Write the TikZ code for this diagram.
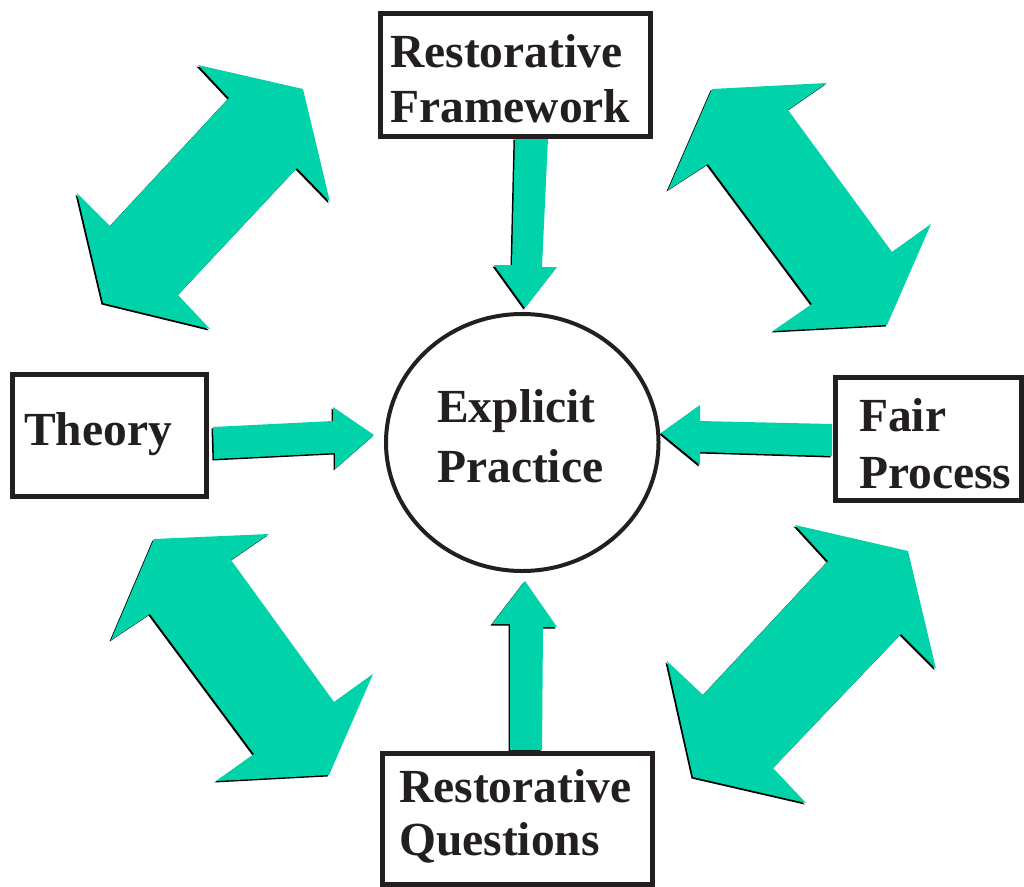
\documentclass[tikz,border=0pt]{standalone}
\usepackage{fontspec}
\setmainfont{Liberation Serif}
\usetikzlibrary{shapes.geometric}
\definecolor{arrowfill}{RGB}{0,210,170}
\definecolor{txt}{RGB}{35,31,32}
\newcommand\blockarr[1]{%
  \fill[black,shift={(-1.5,1.5)}] #1 -- cycle;
  \fill[arrowfill] #1 -- cycle;}
\begin{document}
\begin{tikzpicture}[x=1pt,y=-1pt,
  box/.style={draw=txt,line width=5pt,inner sep=0pt,rectangle},
  hub/.style={draw=txt,line width=4pt,inner sep=0pt,ellipse},
  lbl/.style={font=\fontsize{47.5}{55}\selectfont\bfseries,text=txt,inner sep=0pt,anchor=base west}]
\useasboundingbox (0,0) rectangle (1024,886);

% diagonal double arrows
\blockarr{(198,65) -- (303,89) -- (330,202) -- (297,168) -- (178,295) -- (210,329) -- (103,303) -- (77,193) -- (110,226) -- (229,98)}
\blockarr{(712,89) -- (827,83) -- (788,110) -- (892,252) -- (931,224) -- (887,325) -- (773,331) -- (812,304) -- (708,164) -- (668,190)}
\blockarr{(154,539) -- (269,534) -- (231,560) -- (334,702) -- (373,674) -- (329,775) -- (216,781) -- (254,754) -- (150,614) -- (111,640)}
\blockarr{(795,525) -- (908,551) -- (936,669) -- (901,634) -- (773,768) -- (806,803) -- (693,777) -- (667,661) -- (703,695) -- (828,561)}

% straight arrows into the hub
\blockarr{(515,138) -- (548,138) -- (542,267) -- (557,267) -- (525,308) -- (494,265) -- (512,265)}
\blockarr{(213,427) -- (333,421) -- (333,407) -- (374,435) -- (335,469) -- (335,453) -- (214,459)}
\blockarr{(832,424) -- (700,421) -- (700,405) -- (661,433) -- (700,465) -- (700,452) -- (832,456)}
\blockarr{(525,581) -- (557,627) -- (543,627) -- (542,750) -- (510,750) -- (510,624) -- (492,624)}

% boxes and hub
\node[box,minimum width=270pt,minimum height=123pt] (rf) at (515,74.5) {};
\node[box,minimum width=194.5pt,minimum height=122.5pt] (th) at (109.25,435.25) {};
\node[box,minimum width=186pt,minimum height=123.5pt] (fp) at (928.5,438.75) {};
\node[box,minimum width=270pt,minimum height=131pt] (rq) at (517,818.5) {};
\node[hub,minimum width=272.5pt,minimum height=257pt] (ep) at (522.25,442.5) {};

% labels
\node[lbl] (rf1) at (390,67) {Restorative};
\node[lbl] (rf2) at (390,122) {Framework};
\node[lbl] (th1) at (24,445) {Theory};
\node[lbl] (fp1) at (859,431) {Fair};
\node[lbl] (fp2) at (859,488) {Process};
\node[lbl] (rq1) at (399,802) {Restorative};
\node[lbl] (rq2) at (399,855) {Questions};
\node[lbl] (ep1) at (437,422) {Explicit};
\node[lbl] (ep2) at (437,482) {Practice};
\end{tikzpicture}
\end{document}
